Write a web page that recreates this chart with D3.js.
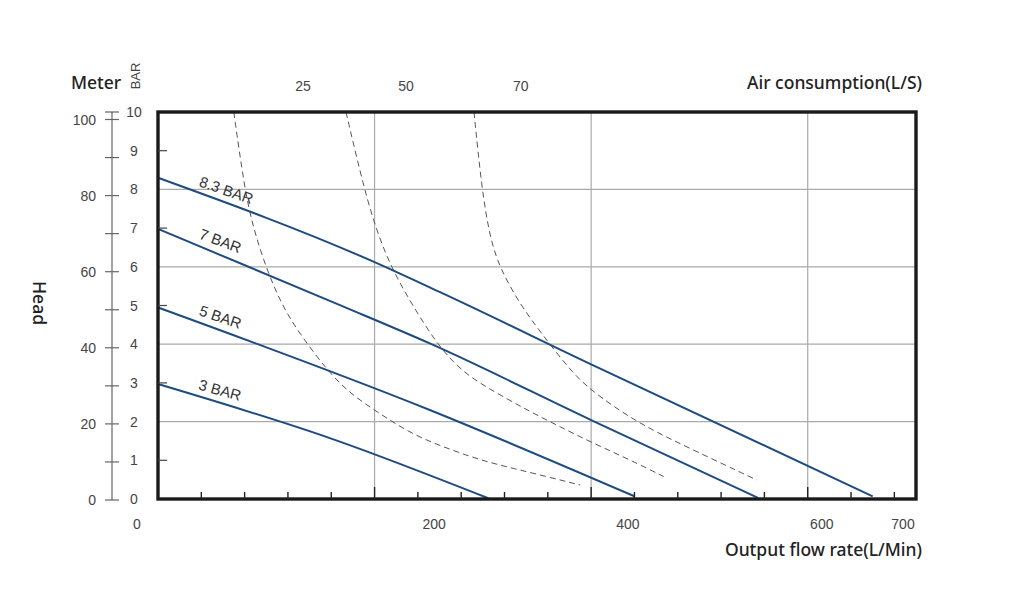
<!DOCTYPE html>
<html lang="en">
<head>
  <meta charset="UTF-8">
  <title>Pump performance curve</title>
  <script src="https://d3js.org/d3.v7.min.js"></script>
  <style>
    body {
      margin: 0;
      background: white;
    }
    svg {
      display: block;
    }
    .tick-num {
      font-family: "Liberation Sans", Arial, sans-serif;
      font-size: 14px;
      fill: #444;
    }
    .title {
      font-family: "Noto Sans", sans-serif;
      font-size: 17.5px;
      font-weight: 500;
      fill: #222;
    }
    .curve-label {
      font-family: "Liberation Sans", Arial, sans-serif;
      font-size: 15px;
      fill: #333;
    }
  </style>
</head>
<body>
  <svg width="1024" height="592"></svg>

  <script>
    // pressure curves: [flow L/min, head BAR]
    const line83 = [[0, 8.3], [200, 6.12], [260, 5.35], [400, 3.48], [660, 0.07]];
    const line7 = [[0, 6.98], [168, 5.01], [251, 4.02], [400, 2.04], [554, 0.03]];
    const line5 = [[0, 4.95], [251, 2.3], [440, 0.07]];
    const line3 = [[0, 2.97], [160, 1.56], [305, 0.02]];
    const pressureNames = ["8.3 BAR", "7 BAR", "5 BAR", "3 BAR"];

    // air consumption curves (dashed)
    const air25 = [[70, 10], [80, 8.0], [88, 7.0], [100, 5.96], [114, 5.03], [130, 4.3], [156, 3.33], [177, 2.73], [205, 2.2], [236, 1.65], [267, 1.31], [297, 1.01], [328, 0.79], [359, 0.58], [390, 0.36]];
    const air50 = [[173.6, 10], [186.5, 8.46], [198.8, 7.17], [214, 6.05], [234, 5.05], [258, 3.98], [282, 3.25], [313, 2.73], [343.5, 2.26], [371, 1.87], [402, 1.44], [436, 1.01], [467, 0.58]];
    const air70 = [[291.8, 10], [298.9, 8.03], [306.6, 6.74], [315.8, 5.96], [334.3, 5.03], [353, 4.32], [380.5, 3.33], [399, 2.82], [442, 1.97], [494, 1.27], [553, 0.49]];

    // tick labels
    const barTicks = [0, 1, 2, 3, 4, 5, 6, 7, 8, 9, 10];
    const meterTicks = [0, 10, 20, 30, 40, 50, 60, 70, 80, 90, 100];
    const meterLabels = [0, 20, 40, 60, 80, 100];
    const flowLabels = ["0", "200", "400", "600", "700"];
    const airLabels = ["25", "50", "70"];

    const svg = d3.select("svg");

    const x = d3.scaleLinear().domain([0, 700]).range([158, 916]);
    const y = d3.scaleLinear().domain([0, 10]).range([499, 112]);
    const yMeter = d3.scaleLinear().domain([0, 100]).range([500, 119.5]);

    // where the printed labels sit, in flow units (they are offset in the original)
    const flowLabelAt = [-19.4, 255, 434, 613, 688];
    const airLabelAt = [134, 229, 335];

    svg.append("clipPath").attr("id", "plot")
      .append("rect")
      .attr("x", x(0)).attr("y", y(10))
      .attr("width", x(700) - x(0)).attr("height", y(0) - y(10));

    // grid
    const grid = svg.append("g").attr("stroke", "#aaa").attr("stroke-width", 1.2);
    grid.selectAll(".gx").data([200, 400, 600]).join("line")
      .attr("x1", d => x(d)).attr("x2", d => x(d))
      .attr("y1", y(10)).attr("y2", y(0));
    grid.selectAll(".gy").data([2, 4, 6, 8]).join("line")
      .attr("x1", x(0)).attr("x2", x(700))
      .attr("y1", d => y(d)).attr("y2", d => y(d));

    const line = d3.line()
      .x(d => x(d[0]))
      .y(d => y(d[1]))
      .curve(d3.curveMonotoneX);

    const smooth = d3.line()
      .x(d => x(d[0]))
      .y(d => y(d[1]))
      .curve(d3.curveBasis);

    // dashed air consumption curves
    svg.append("g")
      .attr("clip-path", "url(#plot)")
      .selectAll("path")
      .data([air25, air50, air70])
      .join("path")
      .attr("d", smooth)
      .attr("fill", "none")
      .attr("stroke", "#555")
      .attr("stroke-width", 1)
      .attr("stroke-dasharray", "6,4");

    // pressure curves
    const pressure = [line83, line7, line5, line3];
    svg.append("g")
      .selectAll("path")
      .data(pressure)
      .join("path")
      .attr("d", line)
      .attr("fill", "none")
      .attr("stroke", "#1d4b82")
      .attr("stroke-width", 2);

    // curve labels along each line
    function headAt(pts, f) {
      for (let i = 1; i < pts.length; i++) {
        if (f <= pts[i][0]) {
          const t = (f - pts[i - 1][0]) / (pts[i][0] - pts[i - 1][0]);
          return pts[i - 1][1] + t * (pts[i][1] - pts[i - 1][1]);
        }
      }
      return pts[pts.length - 1][1];
    }
    pressure.forEach((pts, i) => {
      const f0 = 35, f1 = 90;
      const ang = Math.atan2(y(headAt(pts, f1)) - y(headAt(pts, f0)), x(f1) - x(f0)) * 180 / Math.PI;
      svg.append("text")
        .attr("class", "curve-label")
        .attr("transform", `translate(${x(f0)},${y(headAt(pts, f0))}) rotate(${ang * 0.9})`)
        .attr("y", -7)
        .text(pressureNames[i]);
    });

    // frame
    svg.append("rect")
      .attr("x", x(0)).attr("y", y(10))
      .attr("width", x(700) - x(0)).attr("height", y(0) - y(10))
      .attr("fill", "none")
      .attr("stroke", "#1a1a1a")
      .attr("stroke-width", 3.4);

    // inner ticks: bottom every 40 L/min, left at odd BAR
    const flowTicks = d3.range(40, 700, 40);
    svg.append("g").attr("stroke", "#222").attr("stroke-width", 1.4)
      .selectAll("line").data(flowTicks).join("line")
      .attr("x1", d => x(d)).attr("x2", d => x(d))
      .attr("y1", y(0)).attr("y2", d => y(0) - (d % 200 === 0 ? 12 : 7));
    svg.append("g").attr("stroke", "#444").attr("stroke-width", 1.2)
      .selectAll("line").data(barTicks.filter(d => d % 2 === 1)).join("line")
      .attr("x1", x(0)).attr("x2", x(0) + 9)
      .attr("y1", d => y(d)).attr("y2", d => y(d));

    // outer meter axis
    const meterAxis = svg.append("g").attr("stroke", "#666").attr("stroke-width", 1.2);
    meterAxis.append("line")
      .attr("x1", 112).attr("x2", 112)
      .attr("y1", y(10)).attr("y2", yMeter(0));
    meterAxis.selectAll(".mt").data(meterTicks).join("line")
      .attr("x1", 105).attr("x2", 119)
      .attr("y1", d => yMeter(d)).attr("y2", d => yMeter(d));
    meterAxis.append("line")
      .attr("x1", 105).attr("x2", 119)
      .attr("y1", y(10)).attr("y2", y(10));

    svg.append("g").selectAll("text").data(meterLabels).join("text")
      .attr("class", "tick-num")
      .attr("x", 96).attr("y", d => yMeter(d) + 5)
      .attr("text-anchor", "end")
      .text(d => d);

    svg.append("g").selectAll("text").data(barTicks).join("text")
      .attr("class", "tick-num")
      .attr("x", 134).attr("y", d => y(d) + 5)
      .attr("text-anchor", "middle")
      .text(d => d);

    // bottom flow labels
    svg.append("g").selectAll("text").data(flowLabels).join("text")
      .attr("class", "tick-num")
      .attr("x", (d, i) => x(flowLabelAt[i])).attr("y", 529)
      .attr("text-anchor", "middle")
      .text(d => d);

    // top air consumption labels
    svg.append("g").selectAll("text").data(airLabels).join("text")
      .attr("class", "tick-num")
      .attr("x", (d, i) => x(airLabelAt[i])).attr("y", 91)
      .attr("text-anchor", "middle")
      .text(d => d);

    // titles
    svg.append("text").attr("class", "title")
      .attr("x", 71).attr("y", 89).text("Meter");
    svg.append("text").attr("class", "tick-num")
      .attr("transform", "translate(140,76) rotate(-90)")
      .attr("text-anchor", "middle")
      .style("font-size", "13px")
      .text("BAR");
    svg.append("text").attr("class", "title")
      .attr("transform", "translate(33,303) rotate(90)")
      .attr("text-anchor", "middle")
      .text("Head");
    svg.append("text").attr("class", "title")
      .attr("x", 922).attr("y", 89)
      .attr("text-anchor", "end")
      .text("Air consumption(L/S)");
    svg.append("text").attr("class", "title")
      .attr("x", 922).attr("y", 556)
      .attr("text-anchor", "end")
      .text("Output flow rate(L/Min)");
  </script>
</body>
</html>
